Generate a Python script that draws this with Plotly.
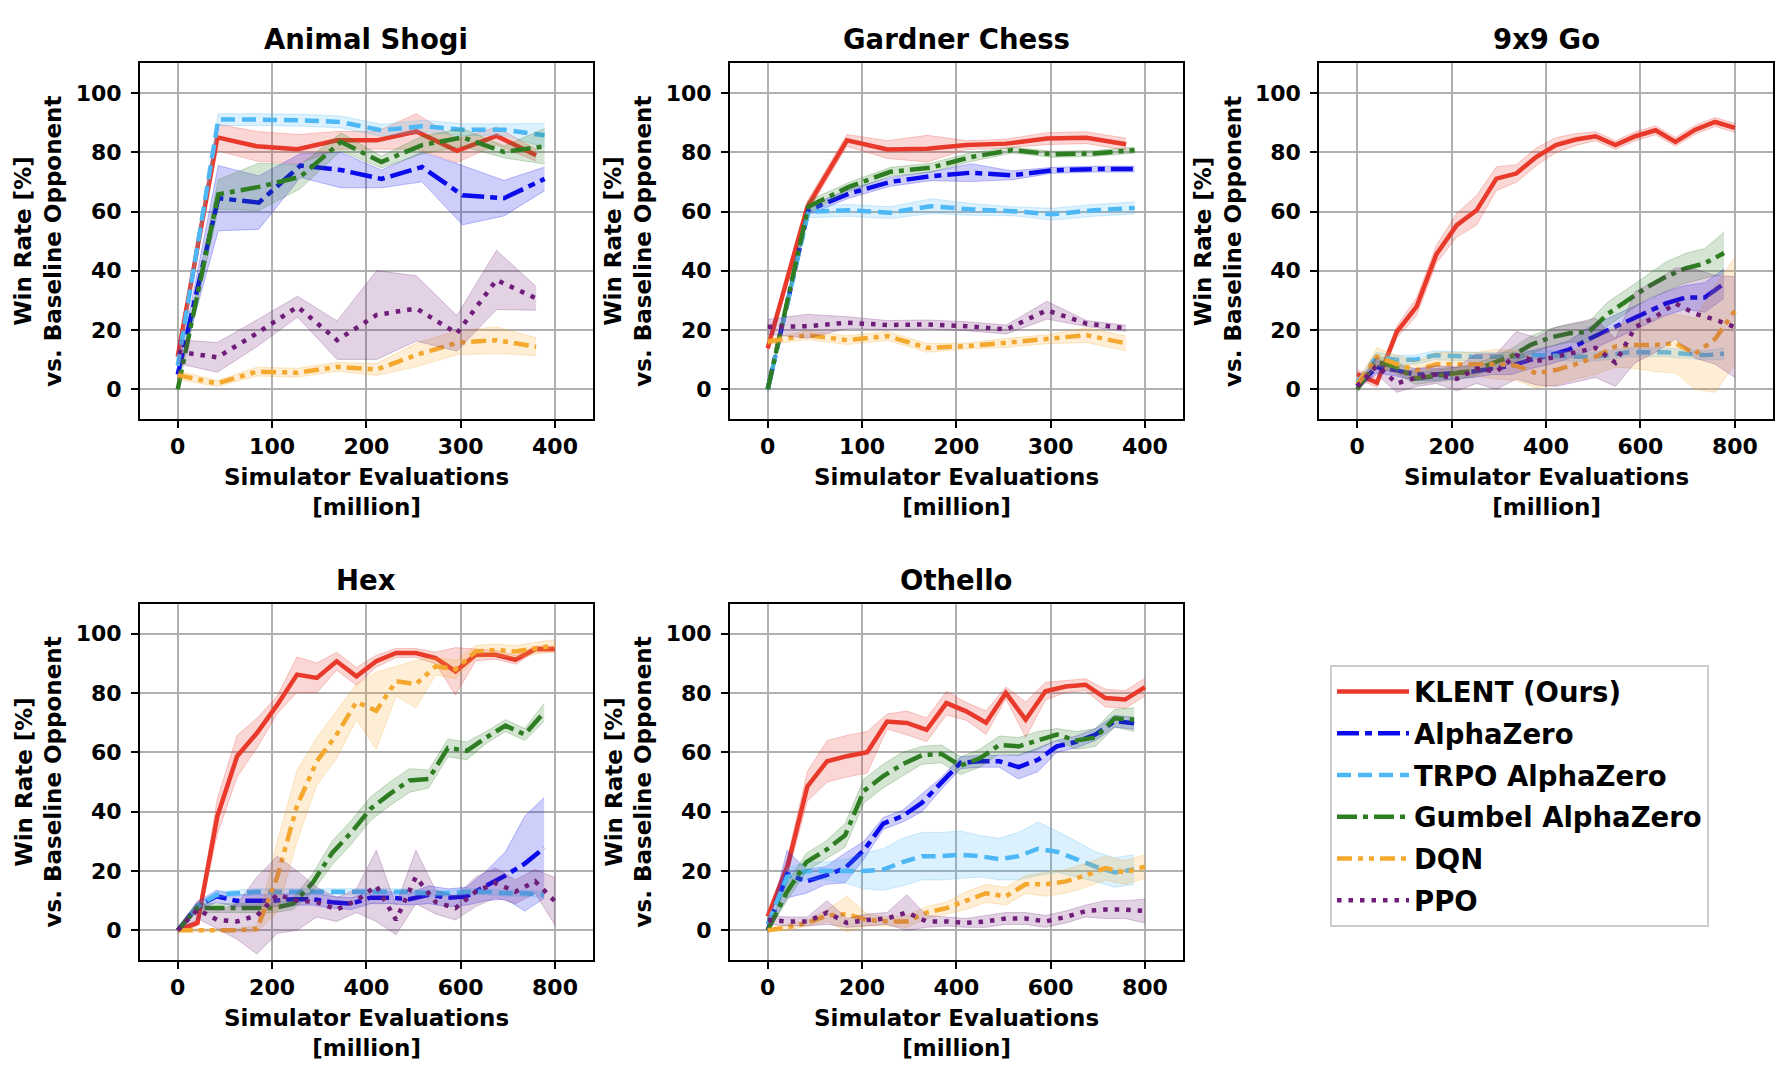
import plotly.graph_objects as go

# ---------------- x grids (million simulator evaluations) ----------------
SMALL_X_A = [0, 42, 84, 127, 169, 211, 253, 296, 338, 380]
SMALL_X_B = [0, 43, 86, 130, 173, 216, 259, 302, 346, 389]
LARGE_X_A = [0, 42, 84, 126, 168, 211, 253, 295, 337, 379, 421, 463, 505, 547, 589, 632, 674, 716, 758, 800]
LARGE_X_B = [0, 41, 82, 123, 164, 204, 245, 286, 327, 368, 409, 450, 491, 532, 573, 613, 654, 695, 736, 777]

# ---------------- Animal Shogi ----------------
AS_KLENT = [11, 85, 82, 81, 84, 84, 87, 80.5, 85.5, 79]
AS_KLENT_SD = [1, 4.5, 5, 5, 3, 3, 6, 4, 3, 2]
AS_AZ = [5, 64.5, 63, 75.5, 74, 71, 75, 65.5, 64.5, 71]
AS_AZ_SD = [1, 11, 9, 4, 6, 3, 5, 10, 6, 4]
AS_TRPO = [8, 91, 91, 90.8, 90.2, 87.4, 88.8, 87.6, 87.6, 85.7]
AS_TRPO_SD = [1, 2, 2, 2, 2, 2, 2, 2, 2, 4]
AS_GAZ = [0, 65.8, 68.3, 71.7, 83.5, 76.7, 82.4, 85, 80.1, 82]
AS_GAZ_SD = [0.5, 5, 8, 4, 3, 2, 3, 3, 2, 6]
AS_DQN = [4.8, 2, 6, 5.6, 7.6, 6.7, 11.6, 15.7, 16.6, 14.4]
AS_DQN_SD = [1.5, 1, 1.5, 1.5, 1.5, 2, 4, 4, 4.5, 3]
AS_PPO = [12.7, 10.8, 18.9, 27.9, 16.6, 25.1, 27.3, 18.9, 36.9, 30.7]
AS_PPO_SD = [4, 5, 4.5, 3.5, 6.5, 15, 11, 6, 10, 4]

# ---------------- Gardner Chess ----------------
GC_KLENT = [13.8, 61.6, 84, 80.9, 81.2, 82.4, 82.9, 84.6, 84.9, 82.7]
GC_KLENT_SD = [1, 2, 2, 3, 4.5, 1.5, 1.5, 2, 2, 2]
GC_AZ = [0, 60.4, 66, 70, 71.9, 73.1, 72.2, 73.9, 74.3, 74.3]
GC_AZ_SD = [0.5, 1.5, 1.5, 1.5, 1.5, 3, 1.5, 1, 1, 1]
GC_TRPO = [0, 59.9, 60.4, 59.6, 61.8, 60.7, 60.1, 59.1, 60.4, 61.2]
GC_TRPO_SD = [0.5, 2, 2, 2, 2.5, 2, 1.5, 2, 2, 2]
GC_GAZ = [0, 61.6, 68.3, 73.4, 74.8, 78.4, 80.7, 79.3, 79.6, 80.7]
GC_GAZ_SD = [0.5, 2, 1.5, 1.5, 1.5, 1.5, 1, 1, 1, 1]
GC_DQN = [16.1, 18.3, 16.6, 18, 14, 14.6, 15.7, 16.9, 18.3, 15.5]
GC_DQN_SD = [1, 1.5, 1.5, 1.5, 1.5, 1, 1.5, 1.5, 2.5, 2.5]
GC_PPO = [21.1, 21.3, 22.5, 21.7, 21.9, 21.3, 20.2, 26.7, 22.2, 20.6]
GC_PPO_SD = [2.5, 4, 2, 1.5, 1.5, 1.5, 1.5, 3, 1, 1]

# ---------------- 9x9 Go ----------------
GO_KLENT = [5.2, 2.2, 19.4, 27.9, 45.6, 55.4, 60.4, 71.1, 72.8, 78.4, 82.4, 84.3, 85.4, 82.4, 85.4, 87.4, 83.5, 87.6, 90.2, 88.2]
GO_KLENT_SD = [1.5, 1.5, 2, 3, 3, 4, 5, 4, 3, 3, 2.5, 2, 1.5, 1.5, 1.5, 1.5, 1.5, 1.5, 1.5, 1.5]
GO_AZ = [1, 7.5, 6.5, 5, 5, 5.5, 6, 7, 8, 10, 11.5, 13.5, 17, 20, 23, 26, 29, 31, 31, 35.7]
GO_AZ_SD = [0.5, 2, 2, 2, 2, 2, 2, 2, 3, 3, 3, 3, 4, 4, 4, 4, 4, 4, 5, 5]
GO_TRPO = [2, 11, 10, 10, 11.5, 11.2, 11, 11, 11, 11.5, 11.5, 11, 11, 11.5, 12.5, 12.5, 12.5, 12, 11.5, 12]
GO_TRPO_SD = [0.5, 1.5, 1.5, 1.5, 1.5, 1.5, 1.5, 1.5, 1.5, 1.5, 1.5, 1.5, 1.5, 1.5, 1.5, 1.5, 1.5, 1.5, 1.5, 2]
GO_GAZ = [0, 9.3, 7.6, 3.7, 4.5, 5.2, 6.3, 8.8, 11.2, 15, 17.5, 18.9, 19.4, 25.6, 30, 34.4, 38, 40.8, 42.5, 46]
GO_GAZ_SD = [0.5, 2, 2, 2, 2, 2, 2, 2, 2.5, 3, 3, 3, 3.5, 4, 4, 4, 5, 5, 5, 7]
GO_DQN = [1.5, 11, 8.5, 6.5, 8.5, 8.5, 8.5, 8.5, 8, 5.5, 6.5, 8.5, 11, 14.5, 15, 15, 15.5, 12, 17, 26.5]
GO_DQN_SD = [1, 3, 3, 3, 4, 4, 4, 5, 5, 5, 5, 5, 6, 7, 8, 9, 10, 12, 18, 18]
GO_PPO = [1, 8, 2, 4, 5, 3.5, 7, 6, 11.5, 9.5, 11, 12.5, 14, 9, 21, 24.5, 29, 25.5, 23.5, 21]
GO_PPO_SD = [1, 3, 3, 3, 3, 4, 5, 6, 8, 8, 10, 10, 10, 8, 12, 12, 12, 15, 15, 17]

# ---------------- Hex ----------------
HX_KLENT = [0, 2.5, 38.4, 58.7, 66.5, 76, 86.2, 85.1, 90.7, 85.6, 90.7, 93.5, 93.5, 91.8, 87.3, 92.9, 92.9, 91.2, 94.8, 94.8]
HX_KLENT_SD = [0.5, 1, 6, 7, 5, 3, 6, 5, 3, 3, 2, 1.5, 1.5, 2, 8, 2, 1.5, 1.5, 1, 1]
HX_AZ = [0, 8, 11.5, 10, 10, 10, 10.5, 10.5, 9.5, 9, 11, 11, 10.5, 12, 11, 11.5, 15, 18.5, 22.5, 27.8]
HX_AZ_SD = [0.5, 1.5, 2, 2, 2, 2, 2, 2, 2, 2, 2, 2, 2, 3, 3, 3, 5, 8, 16, 17]
HX_TRPO = [0, 8, 12, 12.5, 13, 13, 13, 13, 13, 13, 13, 13, 13, 12.5, 12.5, 13, 13, 12.5, 12.5, 12]
HX_TRPO_SD = [0.5, 1, 1, 1, 1, 1, 1, 1, 1, 1, 1, 1, 1, 1, 1, 1, 1, 1, 1, 1]
HX_GAZ = [0, 7.5, 7.5, 7.5, 7.5, 7.5, 9, 16, 26, 33, 41, 46, 50.5, 51, 61.5, 60.5, 65, 69, 66, 73.5]
HX_GAZ_SD = [0.5, 1.5, 1.5, 1.5, 1.5, 1.5, 2, 3, 4, 4, 4, 4, 4, 3, 3, 3, 2, 2, 2, 3]
HX_DQN = [0, 0, 0, 0, 0.5, 18, 42, 57, 66, 77, 74, 84, 83, 89, 88, 94, 94.5, 94, 95, 96]
HX_DQN_SD = [0.5, 0.5, 0.5, 0.5, 1, 12, 12, 8, 8, 6, 13, 5, 8, 3, 3, 2, 2, 2, 2, 2]
HX_PPO = [0, 7, 3.5, 3, 5, 12, 10, 9.5, 7, 10, 15, 3.5, 18, 9.5, 7.5, 13, 16, 13, 16.5, 9.8]
HX_PPO_SD = [0.5, 3, 3, 6, 13, 13, 10, 5, 4, 4, 12, 5, 9, 4, 4, 5, 5, 4, 4, 8]

# ---------------- Othello ----------------
OT_KLENT = [4.7, 21.6, 48.5, 57, 58.7, 60, 70.4, 69.9, 67.6, 76.6, 73.8, 70, 80, 71, 80.6, 82.2, 82.8, 78.3, 77.8, 82]
OT_KLENT_SD = [1, 3, 5, 7, 7, 7, 2.5, 4, 4, 4, 3, 4, 2, 6, 3, 2, 2, 3, 3, 3]
OT_AZ = [0, 19, 16.5, 18.5, 21, 27, 36, 38.5, 43, 49.5, 56.5, 57, 57, 55, 57.5, 62, 63.5, 66, 70.5, 69.8]
OT_AZ_SD = [0.5, 8, 4, 3, 5, 3, 2, 2, 3, 2, 2, 2, 2, 4, 4, 2, 2, 2, 2, 2]
OT_TRPO = [2, 18, 20, 20, 20, 20, 20.5, 23, 25, 25, 25.5, 25, 24, 25, 27.5, 26.5, 24, 21.5, 19.5, 20.5]
OT_TRPO_SD = [1, 3, 3, 3, 4, 6, 7, 8, 8, 8, 8, 7, 7, 8, 9, 7, 6, 5, 5, 5]
OT_GAZ = [0, 13, 23, 27, 32, 47, 52, 56, 59, 59.5, 55.5, 58, 62.5, 62, 64, 66, 64, 65, 71.5, 71]
OT_GAZ_SD = [0.5, 3, 3, 3, 4, 4, 4, 4, 3, 3, 3, 3, 3, 3, 3, 2, 3, 3, 3, 4]
OT_DQN = [0, 1, 2.5, 5, 5.5, 3.5, 3, 3, 6, 7.5, 10, 12.5, 11.5, 15.5, 15.5, 16.5, 18.5, 21, 19.5, 21.5]
OT_DQN_SD = [0.5, 1, 1, 2, 6, 2, 1.5, 2, 2, 2, 3, 3, 3, 3, 4, 4, 4, 4, 4, 4]
OT_PPO = [3.5, 3, 3, 6, 2.5, 3.5, 4, 6, 3, 3, 2.5, 3, 4, 4, 3, 4.5, 6.5, 7, 7, 6.5]
OT_PPO_SD = [1.5, 1.5, 1.5, 4, 1.5, 2, 2, 6, 2, 1.5, 1.5, 2, 2, 2, 2, 2, 2, 3, 3, 4]

# ---------------- labels / ticks ----------------
TITLES = ["Animal Shogi", "Gardner Chess", "9x9 Go", "Hex", "Othello"]
ALGOS = ["KLENT (Ours)", "AlphaZero", "TRPO AlphaZero", "Gumbel AlphaZero", "DQN", "PPO"]
Y_TICKS = [0, 20, 40, 60, 80, 100]
SMALL_X_TICKS = [0, 100, 200, 300, 400]
LARGE_X_TICKS = [0, 200, 400, 600, 800]
X_TITLE = "Simulator Evaluations<br>[million]"
Y_TITLE = "Win Rate [%]<br>vs. Baseline Opponent"

# ---------------- styles ----------------
COLORS = ["#E8392B", "#0A0AEB", "#4DB8F5", "#2E7D22", "#F5A82E", "#6E1E78"]
DASHES = ["solid", "22px,6px,7px,6px", "14px,7px", "20px,6px,5px,6px",
          "15px,6px,5px,6px,5px,6px", "4.5px,7px"]
LW = 4.5
FONT = "DejaVu Sans"


def rgba(hexc, a):
    h = hexc.lstrip("#")
    return "rgba(%d,%d,%d,%.3f)" % (int(h[0:2], 16), int(h[2:4], 16), int(h[4:6], 16), a)


PANELS = [
    (SMALL_X_A, SMALL_X_B, [(AS_KLENT, AS_KLENT_SD), (AS_AZ, AS_AZ_SD), (AS_TRPO, AS_TRPO_SD),
                            (AS_GAZ, AS_GAZ_SD), (AS_DQN, AS_DQN_SD), (AS_PPO, AS_PPO_SD)]),
    (SMALL_X_A, SMALL_X_B, [(GC_KLENT, GC_KLENT_SD), (GC_AZ, GC_AZ_SD), (GC_TRPO, GC_TRPO_SD),
                            (GC_GAZ, GC_GAZ_SD), (GC_DQN, GC_DQN_SD), (GC_PPO, GC_PPO_SD)]),
    (LARGE_X_A, LARGE_X_B, [(GO_KLENT, GO_KLENT_SD), (GO_AZ, GO_AZ_SD), (GO_TRPO, GO_TRPO_SD),
                            (GO_GAZ, GO_GAZ_SD), (GO_DQN, GO_DQN_SD), (GO_PPO, GO_PPO_SD)]),
    (LARGE_X_A, LARGE_X_B, [(HX_KLENT, HX_KLENT_SD), (HX_AZ, HX_AZ_SD), (HX_TRPO, HX_TRPO_SD),
                            (HX_GAZ, HX_GAZ_SD), (HX_DQN, HX_DQN_SD), (HX_PPO, HX_PPO_SD)]),
    (LARGE_X_A, LARGE_X_B, [(OT_KLENT, OT_KLENT_SD), (OT_AZ, OT_AZ_SD), (OT_TRPO, OT_TRPO_SD),
                            (OT_GAZ, OT_GAZ_SD), (OT_DQN, OT_DQN_SD), (OT_PPO, OT_PPO_SD)]),
]
GROUP_A = {0, 4, 5}  # KLENT, DQN, PPO share the A grid

W, H = 1788, 1080
XDOM = [(140 / W, 592.7 / W), (730 / W, 1182.7 / W), (1319.3 / W, 1772.7 / W),
        (140 / W, 592.7 / W), (730 / W, 1182.7 / W)]
YDOM = [(1 - 419 / H, 1 - 63.3 / H)] * 3 + [(1 - 960 / H, 1 - 604 / H)] * 2

fig = go.Figure()

for p, (xa, xb, series) in enumerate(PANELS):
    xref = "x" if p == 0 else "x%d" % (p + 1)
    yref = "y" if p == 0 else "y%d" % (p + 1)
    for k, (mean, sd) in enumerate(series):
        xs = xa if k in GROUP_A else xb
        lo = [m - s for m, s in zip(mean, sd)]
        hi = [m + s for m, s in zip(mean, sd)]
        fig.add_trace(go.Scatter(x=xs, y=lo, mode="lines", xaxis=xref, yaxis=yref,
                                 line=dict(width=1, color=rgba(COLORS[k], 0.25)),
                                 showlegend=False, hoverinfo="skip"))
        fig.add_trace(go.Scatter(x=xs, y=hi, mode="lines", xaxis=xref, yaxis=yref,
                                 fill="tonexty", fillcolor=rgba(COLORS[k], 0.2),
                                 line=dict(width=1, color=rgba(COLORS[k], 0.25)),
                                 showlegend=False, hoverinfo="skip"))
        fig.add_trace(go.Scatter(x=xs, y=mean, mode="lines", xaxis=xref, yaxis=yref,
                                 name=ALGOS[k], legendgroup=ALGOS[k],
                                 showlegend=(p == 0),
                                 line=dict(width=LW, color=COLORS[k], dash=DASHES[k])))

axis_common = dict(showline=True, mirror=True, linecolor="black", linewidth=2,
                   showgrid=True, gridcolor="#b0b0b0", gridwidth=1.5, zeroline=False,
                   ticks="outside", ticklen=7, tickwidth=2, tickcolor="black",
                   tickfont=dict(family=FONT, size=22, color="black", weight="bold"))

layout = dict(width=W, height=H, margin=dict(l=0, r=0, t=0, b=0),
              paper_bgcolor="white", plot_bgcolor="white",
              font=dict(family=FONT, color="black", weight="bold"))

annotations = []
for p in range(5):
    xkey = "xaxis" if p == 0 else "xaxis%d" % (p + 1)
    ykey = "yaxis" if p == 0 else "yaxis%d" % (p + 1)
    large = p >= 2
    layout[xkey] = dict(axis_common, domain=list(XDOM[p]),
                        anchor="y" if p == 0 else "y%d" % (p + 1),
                        range=[-80, 880] if large else [-40, 440],
                        tickvals=LARGE_X_TICKS if large else SMALL_X_TICKS,
                        ticklabelstandoff=0)
    layout[ykey] = dict(axis_common, domain=list(YDOM[p]),
                        anchor="x" if p == 0 else "x%d" % (p + 1),
                        range=[-10, 110], tickvals=Y_TICKS, ticklabelstandoff=5)
    xc = (XDOM[p][0] + XDOM[p][1]) / 2
    yc = (YDOM[p][0] + YDOM[p][1]) / 2
    annotations.append(dict(text=TITLES[p], xref="paper", yref="paper", x=xc, y=YDOM[p][1],
                            xanchor="center", yanchor="middle", yshift=24, showarrow=False,
                            font=dict(family=FONT, size=27.5, color="black", weight="bold")))
    annotations.append(dict(text=X_TITLE, xref="paper", yref="paper", x=xc, y=YDOM[p][0],
                            xanchor="center", yanchor="middle", yshift=-72.5, showarrow=False,
                            font=dict(family=FONT, size=23, color="black", weight="bold")))
    annotations.append(dict(text=Y_TITLE, xref="paper", yref="paper", x=XDOM[p][0], y=yc,
                            xanchor="center", yanchor="middle", xshift=-101.5, textangle=-90,
                            showarrow=False,
                            font=dict(family=FONT, size=23, color="black", weight="bold")))
layout["annotations"] = annotations
layout["legend"] = dict(x=1330 / W, y=1 - 665 / H, xanchor="left", yanchor="top",
                        bgcolor="white", bordercolor="#cccccc", borderwidth=2,
                        font=dict(family=FONT, size=27.5, color="black", weight="bold"),
                        itemwidth=72, traceorder="grouped", tracegroupgap=3)

fig.update_layout(**layout)
fig.write_html("out.html")
